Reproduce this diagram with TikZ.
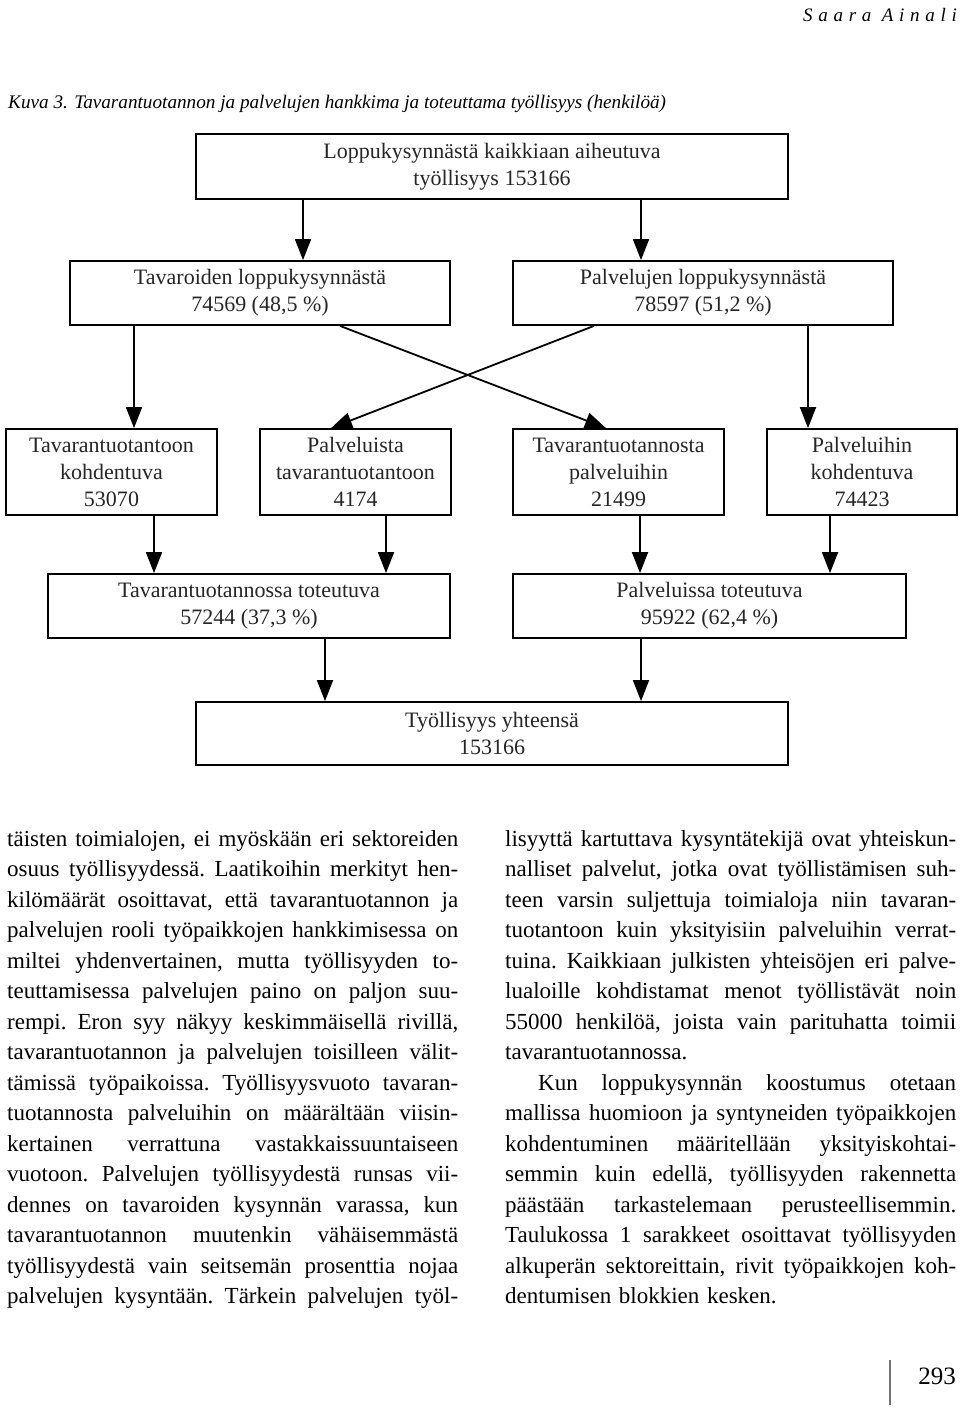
\documentclass[tikz,border=0pt]{standalone}
\usepackage{fontspec}
\setmainfont{Liberation Serif}
\newfontfamily\hdrfnt[LetterSpace=30]{Liberation Serif}
\usetikzlibrary{arrows.meta}
\newcommand{\dgfnt}{\fontsize{22}{27}\selectfont}
\newcommand{\bodyfnt}{\fontsize{23}{30.5}\selectfont\frenchspacing}
\newcommand{\jl}[1]{{\spaceskip=0pt\xspaceskip=0pt\makebox[451pt][s]{#1}}}
\newcommand{\jlw}[2]{{\spaceskip=0pt\xspaceskip=0pt\makebox[#1][s]{#2}}}
\begin{document}
\begin{tikzpicture}[x=1pt,y=-1pt,
  box/.style={draw, line width=1.8pt, align=center, inner sep=0pt, font=\dgfnt, text=black!85},
  arr/.style={line width=1.8pt, -{Triangle[length=21pt,width=16pt]}},
  body/.style={anchor=base west, inner sep=0pt, text width=451pt, font=\bodyfnt, align=left}
]
\useasboundingbox (0,0) rectangle (960,1410);
\fill[white] (0,0) rectangle (960,1410);

% header and caption
\node[anchor=base east, inner sep=0pt, font=\fontsize{19}{21}\selectfont\hdrfnt\itshape] (hdr) at (957,22) {Saara Ainali};
\node[anchor=base west, inner sep=0pt, font=\fontsize{19.2}{21}\selectfont\itshape] (cap) at (8,109) {Kuva 3. Tavarantuotannon ja palvelujen hankkima ja toteuttama työllisyys (henkilöä)};

% boxes
\node[box, minimum width=592pt, minimum height=65pt] (top) at (492,166.5) {Loppukysynnästä kaikkiaan aiheutuva\\työllisyys 153166};
\node[box, minimum width=380pt, minimum height=64pt] (tav) at (260,293) {Tavaroiden loppukysynnästä\\74569 (48,5 \%)};
\node[box, minimum width=380pt, minimum height=64pt] (pal) at (703,293) {Palvelujen loppukysynnästä\\78597 (51,2 \%)};
\node[box, minimum width=211pt, minimum height=86pt] (b1) at (111.5,472) {Tavarantuotantoon\\kohdentuva\\53070};
\node[box, minimum width=191pt, minimum height=86pt] (b2) at (355.5,472) {Palveluista\\tavarantuotantoon\\4174};
\node[box, minimum width=211pt, minimum height=86pt] (b3) at (618.5,472) {Tavarantuotannosta\\palveluihin\\21499};
\node[box, minimum width=190pt, minimum height=86pt] (b4) at (862,472) {Palveluihin\\kohdentuva\\74423};
\node[box, minimum width=402pt, minimum height=64pt] (l4) at (249,606) {Tavarantuotannossa toteutuva\\57244 (37,3 \%)};
\node[box, minimum width=393pt, minimum height=64pt] (r4) at (709.5,606) {Palveluissa toteutuva\\95922 (62,4 \%)};
\node[box, minimum width=592pt, minimum height=63pt] (bot) at (492,733.5) {Työllisyys yhteensä\\153166};

% connectors
\draw[arr] ([xshift=-189pt]top.south) -- ([xshift=43pt]tav.north);
\draw[arr] ([xshift=149pt]top.south) -- ([xshift=-62pt]pal.north);
\draw[arr] ([xshift=-126pt]tav.south) -- ([xshift=22.5pt]b1.north);
\draw[arr] ([xshift=80pt]tav.south) -- ([xshift=-12.5pt]b3.north);
\draw[arr] ([xshift=-109pt]pal.south) -- ([xshift=-24.5pt]b2.north);
\draw[arr] ([xshift=105pt]pal.south) -- ([xshift=-54pt]b4.north);
\draw[arr] ([xshift=42.5pt]b1.south) -- ([xshift=-95pt]l4.north);
\draw[arr] ([xshift=30.5pt]b2.south) -- ([xshift=137pt]l4.north);
\draw[arr] ([xshift=21.5pt]b3.south) -- ([xshift=-69.5pt]r4.north);
\draw[arr] ([xshift=-32pt]b4.south) -- ([xshift=120.5pt]r4.north);
\draw[arr] ([xshift=76pt]l4.south) -- ([xshift=-167pt]bot.north);
\draw[arr] ([xshift=-68.5pt]r4.south) -- ([xshift=149pt]bot.north);

% body text
\node[body] (colL) at (7,846) {%
\jl{täisten toimialojen, ei myöskään eri sektoreiden}\\
\jl{osuus työllisyydessä. Laatikoihin merkityt hen-}\\
\jl{kilömäärät osoittavat, että tavarantuotannon ja}\\
\jl{palvelujen rooli työpaikkojen hankkimisessa on}\\
\jl{miltei yhdenvertainen, mutta työllisyyden to-}\\
\jl{teuttamisessa palvelujen paino on paljon suu-}\\
\jl{rempi. Eron syy näkyy keskimmäisellä rivillä,}\\
\jl{tavarantuotannon ja palvelujen toisilleen välit-}\\
\jl{tämissä työpaikoissa. Työllisyysvuoto tavaran-}\\
\jl{tuotannosta palveluihin on määrältään viisin-}\\
\jl{kertainen verrattuna vastakkaissuuntaiseen}\\
\jl{vuotoon. Palvelujen työllisyydestä runsas vii-}\\
\jl{dennes on tavaroiden kysynnän varassa, kun}\\
\jl{tavarantuotannon muutenkin vähäisemmästä}\\
\jl{työllisyydestä vain seitsemän prosenttia nojaa}\\
\jl{palvelujen kysyntään. Tärkein palvelujen työl-}};

\node[body] (colR) at (505,846) {%
\jl{lisyyttä kartuttava kysyntätekijä ovat yhteiskun-}\\
\jl{nalliset palvelut, jotka ovat työllistämisen suh-}\\
\jl{teen varsin suljettuja toimialoja niin tavaran-}\\
\jl{tuotantoon kuin yksityisiin palveluihin verrat-}\\
\jl{tuina. Kaikkiaan julkisten yhteisöjen eri palve-}\\
\jl{lualoille kohdistamat menot työllistävät noin}\\
\jl{55000 henkilöä, joista vain parituhatta toimii}\\
tavarantuotannossa.\\
\hspace*{33pt}\jlw{418pt}{Kun loppukysynnän koostumus otetaan}\\
\jl{mallissa huomioon ja syntyneiden työpaikkojen}\\
\jl{kohdentuminen määritellään yksityiskohtai-}\\
\jl{semmin kuin edellä, työllisyyden rakennetta}\\
\jl{päästään tarkastelemaan perusteellisemmin.}\\
\jl{Taulukossa 1 sarakkeet osoittavat työllisyyden}\\
\jl{alkuperän sektoreittain, rivit työpaikkojen koh-}\\
dentumisen blokkien kesken.};

% page number
\coordinate (rt) at (890,1360);
\coordinate (rb) at (890,1405);
\draw[line width=1.2pt, black!55] (rt) -- (rb);
\node[anchor=base east, inner sep=0pt, font=\fontsize{25}{27}\selectfont] (pg) at (956,1384) {293};
\end{tikzpicture}
\end{document}
